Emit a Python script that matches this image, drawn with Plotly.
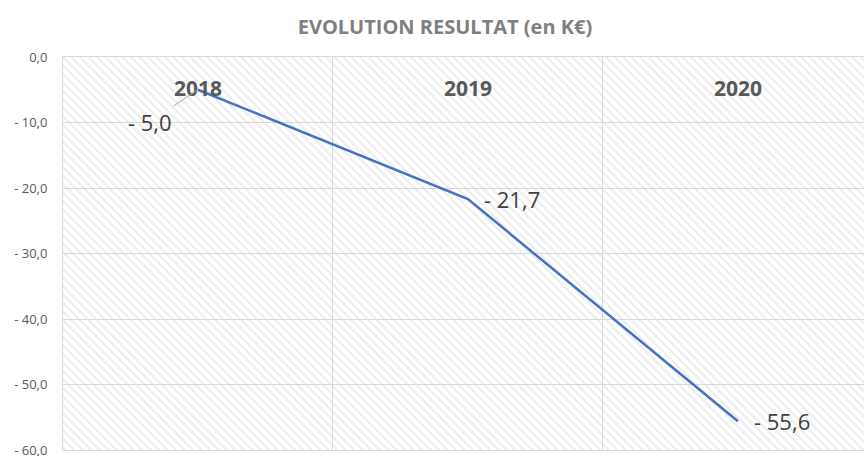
import plotly.graph_objects as go

# data
years = ['2018', '2019', '2020']
resultat = [-5.0, -21.7, -55.6]
y_ticks = [0, -10, -20, -30, -40, -50, -60]


def fr_label(v):
    # Excel-like "- 5,0" formatting
    s = f"{abs(v):.1f}".replace('.', ',')
    return s if v == 0 else f"- {s}"


fig = go.Figure()

# hatched plot background (Excel pattern fill), transparent so the grid shows through
fig.add_trace(
    go.Bar(
        x=years,
        y=[min(y_ticks)] * len(years),
        width=1,
        marker=dict(
            color='rgba(0,0,0,0)',
            line=dict(width=0),
            pattern=dict(shape='\\', fgcolor='#dadada', bgcolor='rgba(0,0,0,0)',
                         size=6, solidity=0.35, fillmode='overlay'),
        ),
        hoverinfo='skip',
        showlegend=False,
    )
)

fig.add_trace(
    go.Scatter(
        x=years,
        y=resultat,
        mode='lines',
        line=dict(color='#4472C4', width=2.5),
        showlegend=False,
    )
)

# category labels inside the top of the plot area
# (category axis: annotations use the category index)
for i, yr in enumerate(years):
    fig.add_annotation(
        x=i, xref='x', y=1, yref='paper', yanchor='middle', yshift=-31,
        text=f'<b>{yr}</b>', showarrow=False,
        font=dict(family='Open Sans, sans-serif', size=21, color='#595959'),
    )

# data labels
label_font = dict(family='Open Sans, sans-serif', size=22, color='#404040')
for i, v in enumerate(resultat):
    if i == 0:
        fig.add_annotation(
            x=i, y=v, text=fr_label(v), showarrow=True, arrowhead=0,
            arrowcolor='#a6a6a6', arrowwidth=1, ax=-48, ay=32,
            font=label_font,
        )
    else:
        fig.add_annotation(
            x=i, y=v, text=fr_label(v), showarrow=False,
            xanchor='left', xshift=14, font=label_font,
        )

fig.update_xaxes(
    type='category',
    range=[-0.5, 2.467],
    tickson='boundaries',
    showticklabels=False,
    ticks='',
    showgrid=True,
    gridcolor='#d9d9d9',
    gridwidth=1,
    showline=True,
    linecolor='#d9d9d9',
    linewidth=1,
    mirror=True,
)

fig.update_yaxes(
    range=[min(y_ticks), 0],
    tickvals=y_ticks,
    ticktext=[fr_label(v) for v in y_ticks],
    ticklabeloverflow='allow',
    showgrid=True,
    gridcolor='#d9d9d9',
    gridwidth=1,
    zeroline=False,
    showline=True,
    linecolor='#d9d9d9',
    linewidth=1,
    mirror=True,
    ticks='outside',
    ticklen=12,
    tickcolor='rgba(0,0,0,0)',
    automargin=False,
    tickfont=dict(family='Open Sans, sans-serif', size=13, color='#595959'),
)

fig.update_layout(
    title=dict(
        text='<b>EVOLUTION RESULTAT (en K€)</b>',
        x=0.515, xanchor='center', y=0.94, yanchor='middle',
        font=dict(family='Open Sans, sans-serif', size=20, color='#7f7f7f'),
    ),
    width=864,
    height=456,
    margin=dict(l=63, r=0, t=57, b=6, autoexpand=False),
    bargap=0,
    plot_bgcolor='white',
    paper_bgcolor='white',
    showlegend=False,
)

fig.write_html("out.html", post_script="document.body.style.margin='0';",
               config={'displayModeBar': False})
